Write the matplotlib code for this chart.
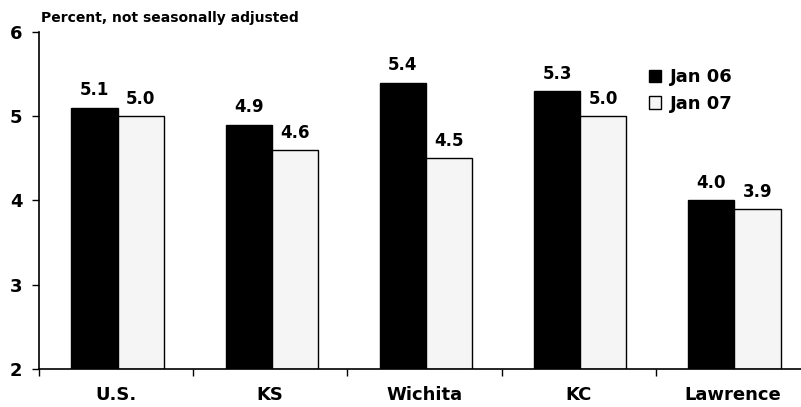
import numpy as np
import matplotlib
matplotlib.use('Agg')
import matplotlib.pyplot as plt

plt.rcParams['font.family'] = ['DejaVu Sans']
plt.rcParams['font.weight'] = 'bold'

categories = ['U.S.', 'KS', 'Wichita', 'KC', 'Lawrence']
jan06 = [5.1, 4.9, 5.4, 5.3, 4.0]
jan07 = [5.0, 4.6, 4.5, 5.0, 3.9]
series_names = ['Jan 06', 'Jan 07']

fig = plt.figure(figsize=(8.01, 4.07), dpi=100)
ax = fig.add_axes([0.0487, 0.0934, 0.9625, 0.828])

x = np.arange(len(categories))
w = 0.3
b1 = ax.bar(x - w/2 + 0.01, np.array(jan06) - 2, w, bottom=2, color='black',
            edgecolor='black', linewidth=1, label=series_names[0])
b2 = ax.bar(x + w/2 + 0.01, np.array(jan07) - 2, w, bottom=2, color='#f5f5f5',
            edgecolor='black', linewidth=1, label=series_names[1])

for i in range(len(categories)):
    ax.annotate('%.1f' % jan06[i], (x[i] - w/2 + 0.01, jan06[i]), xytext=(0, 6),
                textcoords='offset points', ha='center', va='bottom', fontsize=12, fontweight='bold')
    ax.annotate('%.1f' % jan07[i], (x[i] + w/2 + 0.01, jan07[i]), xytext=(0, 6),
                textcoords='offset points', ha='center', va='bottom', fontsize=12, fontweight='bold')

ax.set_xlim(-0.5, len(categories) - 0.5)
ax.set_ylim(2, 6)
ax.set_yticks([2, 3, 4, 5, 6])
ax.tick_params(axis='y', direction='out', length=5, width=1, labelsize=13, pad=7)
ax.set_xticks(x)
ax.set_xticklabels(categories)
ax.tick_params(axis='x', which='major', length=0, labelsize=13, pad=12.5)
ax.set_xticks(np.arange(len(categories)) - 0.5, minor=True)
ax.tick_params(axis='x', which='minor', direction='out', length=5, width=1)

for s in ['top', 'right']:
    ax.spines[s].set_visible(False)
ax.spines['left'].set_linewidth(1.2)
ax.spines['bottom'].set_linewidth(1.2)

leg = ax.legend(loc='upper left', bbox_to_anchor=(0.791, 0.892), frameon=False,
                fontsize=13, handlelength=0.7, handleheight=0.7, handletextpad=0.45,
                labelspacing=0.45, borderpad=0, borderaxespad=0)
for t in leg.get_texts():
    t.set_fontweight('bold')

fig.text(0.051, 1 - 22/407, 'Percent, not seasonally adjusted', fontsize=10,
         fontweight='bold', ha='left', va='baseline')

fig.savefig('out.png', dpi=100)
